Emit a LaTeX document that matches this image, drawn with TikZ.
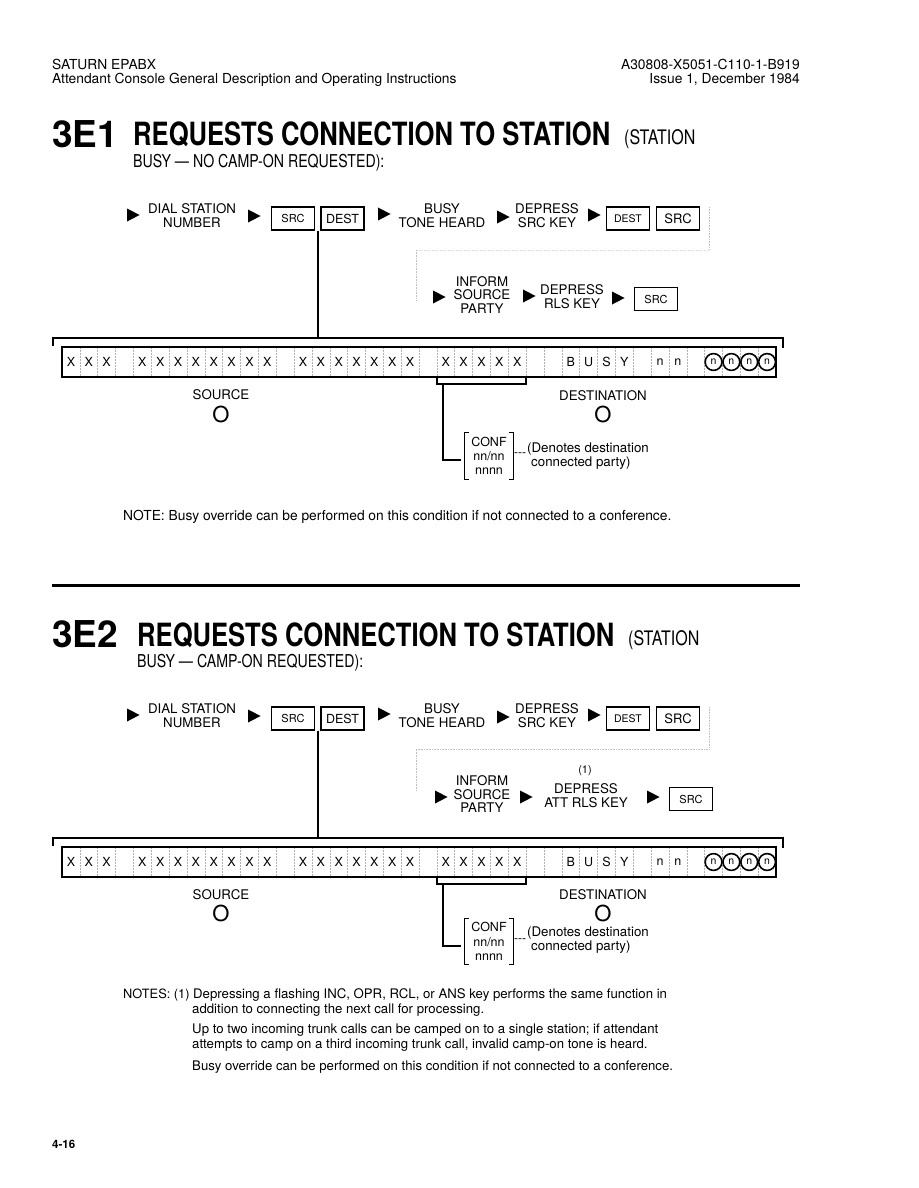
\documentclass[tikz,border=0pt]{standalone}
\usepackage{fontspec}
\setmainfont{TeX Gyre Heros}
\newfontfamily\narrowfont[FakeStretch=0.8]{TeX Gyre Heros}
\usetikzlibrary{shapes.geometric, calc}

\begin{document}
\begin{tikzpicture}[
    x=1pt, y=-1pt,
    header/.style={inner sep=0pt, font=\fontsize{13.8}{15}\selectfont},
    titlenum/.style={anchor=base west, inner sep=0pt, font=\fontsize{37}{37}\selectfont\bfseries},
    title/.style={anchor=base west, inner sep=0pt, font=\narrowfont\fontsize{32}{32}\selectfont\bfseries},
    titlesmall/.style={anchor=base west, inner sep=0pt, font=\narrowfont\fontsize{20}{20}\selectfont},
    subtitle/.style={anchor=base west, inner sep=0pt, font=\narrowfont\fontsize{17.7}{18}\selectfont},
    flow/.style={align=center, inner sep=0pt, font=\fontsize{13.3}{13.5}\selectfont},
    keybox/.style={rectangle, draw, line width=1.7pt, minimum width=43pt, minimum height=23pt, inner sep=0pt, font=\fontsize{11}{12}\selectfont},
    bigkey/.style={font=\fontsize{13}{13}\selectfont},
    pointer/.style={isosceles triangle, isosceles triangle stretches, fill=black, inner sep=0pt, minimum width=13pt, minimum height=12.5pt},
    display/.style={rectangle, draw, line width=2.6pt, minimum width=714pt, minimum height=30pt, inner sep=0pt},
    cell/.style={inner sep=0pt, font=\fontsize{12.5}{12.5}\selectfont},
    ringcell/.style={circle, draw, line width=1.6pt, minimum size=16.8pt, inner sep=0pt, font=\fontsize{10.5}{10.5}\selectfont},
    cellsep/.style={gray!60, line width=0.5pt, densely dotted},
    bar/.style={line width=2pt},
    link/.style={line width=1.5pt},
    guide/.style={gray!50, densely dotted, line width=0.6pt},
    label/.style={inner sep=0pt, font=\fontsize{13.3}{14}\selectfont},
    bigO/.style={inner sep=0pt, font=\fontsize{22}{22}\selectfont},
    confbox/.style={align=center, inner sep=0pt, minimum width=48pt, minimum height=46pt, font=\fontsize{12.5}{14.2}\selectfont},
    brk/.style={line width=1pt},
    body/.style={anchor=base west, inner sep=0pt, font=\fontsize{13.2}{15}\selectfont}
]
\useasboundingbox (0,0) rectangle (918,1188);

% page header
\node[header, anchor=base west] (hdl1) at (52,70) {SATURN EPABX};
\node[header, anchor=base west] (hdl2) at (52,84) {Attendant Console General Description and Operating Instructions};
\node[header, anchor=base east] (hdr1) at (800,70) {A30808-X5051-C110-1-B919};
\node[header, anchor=base east] (hdr2) at (800,84) {Issue 1, December 1984};

%%%%% 3E1
\node[titlenum] (num1) at (52,147) {3E1};
\node[title] (head1) at (133,146) {REQUESTS CONNECTION TO STATION};
\node[titlesmall] (paren1) at (624,145) {(STATION};
\node[subtitle] (sub1) at (133,167) {BUSY — NO CAMP-ON REQUESTED):};

\node[pointer] (p11) at (131,215) {};
\node[flow] (dial1) at (192,215.5) {DIAL STATION\\NUMBER};
\node[pointer] (p12) at (252,216) {};
\node[keybox] (src11) at (293,218.5) {SRC};
\node[keybox, font=\fontsize{12.5}{13}\selectfont] (dest11) at (342.5,218.5) {DEST};
\node[pointer] (p13) at (382,214) {};
\node[flow] (busy1) at (442,215.5) {BUSY\\TONE HEARD};
\node[pointer] (p14) at (501,217) {};
\node[flow] (dep1) at (547,215.5) {DEPRESS\\SRC KEY};
\node[pointer] (p15) at (592,215) {};
\node[keybox, font=\fontsize{10.5}{11}\selectfont] (dest12) at (628,218.5) {DEST};
\node[keybox, bigkey] (src12) at (678,218.5) {SRC};

\node[pointer] (p16) at (437,297) {};
\node[flow] (inf1) at (482,295) {INFORM\\SOURCE\\PARTY};
\node[pointer] (p17) at (527,296) {};
\node[flow] (rls1) at (572,296.5) {DEPRESS\\RLS KEY};
\node[pointer] (p18) at (616,298) {};
\node[keybox] (src13) at (656,299) {SRC};

% faint guide to the second row
\coordinate (g11) at (709,207);
\coordinate (g12) at (709,250);
\coordinate (g13) at (416,250);
\coordinate (g14) at (416,300);
\draw[guide] (g11) -- (g12);
\draw[guide, gray!25] (g12) -- (g13);
\draw[guide] (g13) -- (g14);

% drop to the display
\coordinate (drop1) at ($(src11.south east)!0.5!(dest11.south west)$);
\coordinate (bar1) at (drop1 |- 0,338);
\draw[link] (drop1) -- (bar1);
\draw[bar] (53,346) -- (53,338) -- (783,338) -- (783,348);

\node[display] (disp1) at (419,362) {};
\foreach \c in {1,...,39}
  \draw[cellsep] ({62+17.85*\c},348) -- ({62+17.85*\c},376);
\foreach \c in {0,1,2,4,5,...,11,13,14,...,19,21,22,...,25}
  \node[cell] (e1x\c) at ({62+17.85*(\c+0.5)},362) {X};
\foreach \c/\t in {28/B,29/U,30/S,31/Y,33/n,34/n}
  \node[cell] (e1x\c) at ({62+17.85*(\c+0.5)},362) {\t};
\foreach \c in {36,...,39}
  \node[ringcell] (e1x\c) at ({62+17.85*(\c+0.5)},362) {n};

\node[label] (srcl1) at (221,395) {SOURCE};
\node[bigO] (srco1) at (221,414) {O};
\node[label] (dstl1) at (603,396) {DESTINATION};
\node[bigO] (dsto1) at (603,414) {O};

% conference hook
\draw[link] (436.9,377) -- (436.9,384) -- (526.1,384) -- (526.1,377);
\coordinate (tap1) at (443,384);
\coordinate (elbow1) at (443,460);
\coordinate (hook1) at (461,460);
\draw[link] (tap1) -- (elbow1) -- (hook1);
\node[confbox] (conf1) at (489,456) {CONF\\nn/nn\\nnnn};
\draw[brk] ([xshift=4pt]conf1.north west) -| (conf1.south west) -- ++(4,0);
\draw[brk] ([xshift=-4pt]conf1.north east) -| (conf1.south east) -- ++(-4,0);
\node[inner sep=0pt, font=\fontsize{12}{12}\selectfont] (dash1) at (520,455) {-{}-{}-};
\node[label, anchor=west, align=left] (denote1) at (527,456) {(Denotes destination\\\hspace{4pt}connected party)};

\node[body, font=\fontsize{13.8}{15}\selectfont] (note1) at (123,520) {NOTE: Busy override can be performed on this condition if not connected to a conference.};

\draw[line width=3pt] (52,585) -- (800,585);

%%%%% 3E2
\node[titlenum] (num2) at (52,647) {3E2};
\node[title] (head2) at (137,646) {REQUESTS CONNECTION TO STATION};
\node[titlesmall] (paren2) at (628,645) {(STATION};
\node[subtitle] (sub2) at (137,667) {BUSY — CAMP-ON REQUESTED):};

\node[pointer] (p21) at (131,715) {};
\node[flow] (dial2) at (192,715.5) {DIAL STATION\\NUMBER};
\node[pointer] (p22) at (252,716) {};
\node[keybox] (src21) at (293,718.5) {SRC};
\node[keybox, font=\fontsize{12.5}{13}\selectfont] (dest21) at (342.5,718.5) {DEST};
\node[pointer] (p23) at (382,714) {};
\node[flow] (busy2) at (442,715.5) {BUSY\\TONE HEARD};
\node[pointer] (p24) at (501,717) {};
\node[flow] (dep2) at (547,715.5) {DEPRESS\\SRC KEY};
\node[pointer] (p25) at (592,715) {};
\node[keybox, font=\fontsize{10.5}{11}\selectfont] (dest22) at (628,718.5) {DEST};
\node[keybox, bigkey] (src22) at (678,718.5) {SRC};

\node[pointer] (p26) at (439,797) {};
\node[flow] (inf2) at (482,794.5) {INFORM\\SOURCE\\PARTY};
\node[pointer] (p27) at (524,797) {};
\node[inner sep=0pt, font=\fontsize{11}{11}\selectfont] (fn2) at (585,771) {(1)};
\node[flow] (rls2) at (586,795.5) {DEPRESS\\ATT RLS KEY};
\node[pointer] (p28) at (651,797) {};
\node[keybox] (src23) at (691,799) {SRC};

\coordinate (g21) at (709,707);
\coordinate (g22) at (709,749);
\coordinate (g23) at (416,749);
\coordinate (g24) at (416,791);
\draw[guide] (g21) -- (g22) -- (g23) -- (g24);

\coordinate (drop2) at ($(src21.south east)!0.5!(dest21.south west)$);
\coordinate (bar2) at (drop2 |- 0,838);
\draw[link] (drop2) -- (bar2);
\draw[bar] (53,846) -- (53,838) -- (783,838) -- (783,848);

\node[display] (disp2) at (419,862) {};
\foreach \c in {1,...,39}
  \draw[cellsep] ({62+17.85*\c},848) -- ({62+17.85*\c},876);
\foreach \c in {0,1,2,4,5,...,11,13,14,...,19,21,22,...,25}
  \node[cell] (e2x\c) at ({62+17.85*(\c+0.5)},862) {X};
\foreach \c/\t in {28/B,29/U,30/S,31/Y,33/n,34/n}
  \node[cell] (e2x\c) at ({62+17.85*(\c+0.5)},862) {\t};
\foreach \c in {36,...,39}
  \node[ringcell] (e2x\c) at ({62+17.85*(\c+0.5)},862) {n};

\node[label] (srcl2) at (221,895) {SOURCE};
\node[bigO] (srco2) at (221,913) {O};
\node[label] (dstl2) at (603,895) {DESTINATION};
\node[bigO] (dsto2) at (603,913) {O};

\draw[link] (436.9,877) -- (436.9,884) -- (526.1,884) -- (526.1,877);
\coordinate (tap2) at (443,884);
\coordinate (elbow2) at (443,946);
\coordinate (hook2) at (461,946);
\draw[link] (tap2) -- (elbow2) -- (hook2);
\node[confbox] (conf2) at (489,941.5) {CONF\\nn/nn\\nnnn};
\draw[brk] ([xshift=4pt]conf2.north west) -| (conf2.south west) -- ++(4,0);
\draw[brk] ([xshift=-4pt]conf2.north east) -| (conf2.south east) -- ++(-4,0);
\node[inner sep=0pt, font=\fontsize{12}{12}\selectfont] (dash2) at (520,941) {-{}-{}-};
\node[label, anchor=west, align=left] (denote2) at (527,940) {(Denotes destination\\\hspace{4pt}connected party)};

\node[body, font=\fontsize{12.8}{15}\selectfont] (notes2) at (123,998) {NOTES: (1)};
\node[body] (n2a) at (193,998) {Depressing a flashing INC, OPR, RCL, or ANS key performs the same function in};
\node[body] (n2b) at (192,1013) {addition to connecting the next call for processing.};
\node[body] (n2c) at (192,1033) {Up to two incoming trunk calls can be camped on to a single station; if attendant};
\node[body] (n2d) at (192,1048) {attempts to camp on a third incoming trunk call, invalid camp-on tone is heard.};
\node[body] (n2e) at (192,1070) {Busy override can be performed on this condition if not connected to a conference.};

\node[anchor=base west, inner sep=0pt, font=\fontsize{11.5}{12}\selectfont\bfseries] (page) at (52,1148) {4-16};

\end{tikzpicture}
\end{document}
